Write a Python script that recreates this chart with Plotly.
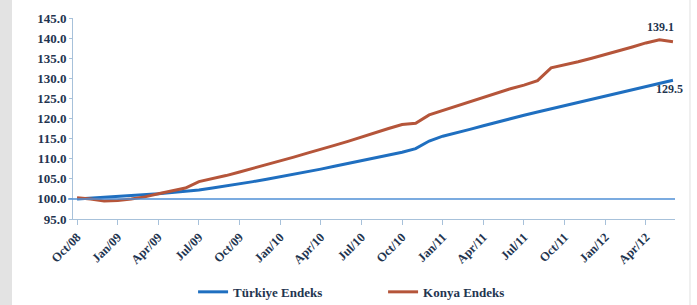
import plotly.graph_objects as go

mon = ["Jan", "Feb", "Mar", "Apr", "May", "Jun", "Jul", "Aug", "Sep", "Oct", "Nov", "Dec"]
months = []
y, m = 2008, 9
for _ in range(45):
    months.append(f"{mon[m]}/{str(y)[2:]}")
    m += 1
    if m == 12:
        m = 0
        y += 1

turkiye = [100.0, 100.2, 100.4, 100.6, 100.8, 101.0, 101.3, 101.6, 101.9, 102.2,
           102.7, 103.2, 103.7, 104.3, 104.9, 105.5, 106.1, 106.7, 107.4, 108.1,
           108.8, 109.5, 110.2, 110.9, 111.6, 112.5, 114.4, 115.6, 116.4, 117.3,
           118.2, 119.1, 120.0, 120.8, 121.6, 122.4, 123.2, 124.0, 124.8, 125.6,
           126.4, 127.2, 128.0, 128.8, 129.5]
konya = [100.3, 100.0, 99.5, 99.6, 100.0, 100.5, 101.3, 102.0, 102.7, 104.3,
         105.0, 105.8, 106.7, 107.6, 108.5, 109.5, 110.4, 111.4, 112.3, 113.3,
         114.3, 115.4, 116.4, 117.5, 118.5, 118.8, 120.9, 122.0, 123.1, 124.2,
         125.3, 126.4, 127.4, 128.3, 129.4, 132.6, 133.3, 134.1, 135.0, 135.9,
         136.8, 137.8, 138.8, 139.6, 139.1]
tick_labels = months[::3]
baseline = 100.0

font_family = "Liberation Serif"
txt_color = "#1f3550"
axis_color = "#a7c1da"

fig = go.Figure()
fig.add_trace(go.Scatter(x=months, y=turkiye, mode="lines", name="Türkiye Endeks",
                         line=dict(color="#1f6fc0", width=3)))
fig.add_trace(go.Scatter(x=months, y=konya, mode="lines", name="Konya Endeks",
                         line=dict(color="#b5553a", width=3)))

fig.add_shape(type="line", xref="paper", yref="y", x0=-0.008, x1=1.0,
              y0=baseline, y1=baseline, line=dict(color="#4f8fd6", width=1.5))
# left grey strip and right frame line
fig.add_shape(type="rect", xref="paper", yref="paper", x0=-0.13, x1=-0.1013,
              y0=-0.5, y1=1.2, fillcolor="#e3e3e3", line=dict(width=0), layer="below")
fig.add_shape(type="line", xref="paper", yref="paper", x0=1.0249, x1=1.0249,
              y0=-0.5, y1=1.2, line=dict(color="#e0e0e0", width=1))

fig.add_annotation(x=months[-1], y=konya[-1], text=f"{konya[-1]:.1f}", showarrow=False,
                   xanchor="center", yanchor="bottom", xshift=-12, yshift=6,
                   font=dict(family=font_family, size=12, color=txt_color, weight="bold"))
fig.add_annotation(x=months[-1], y=turkiye[-1], text=f"{turkiye[-1]:.1f}", showarrow=False,
                   xanchor="center", yanchor="top", xshift=-3, yshift=0,
                   font=dict(family=font_family, size=12, color=txt_color, weight="bold"))

fig.update_layout(
    width=697, height=305,
    margin=dict(l=73, r=22, t=18, b=86, autoexpand=False),
    paper_bgcolor="white", plot_bgcolor="white",
    showlegend=True,
    legend=dict(orientation="h", xref="container", yref="container",
                x=0.277, xanchor="left", y=0.043, yanchor="middle",
                entrywidth=145, entrywidthmode="pixels",
                font=dict(family=font_family, size=13, color=txt_color, weight="bold")),
)
fig.update_xaxes(type="category", range=[-0.3, 44.15], tickmode="array",
                 tickvals=tick_labels, ticktext=tick_labels, tickangle=-45,
                 automargin=False,
                 showline=True, linecolor=axis_color, linewidth=1,
                 ticks="outside", ticklen=5, tickcolor=axis_color,
                 showgrid=False, zeroline=False,
                 tickfont=dict(family=font_family, size=12.5, color=txt_color, weight="bold"))
fig.update_yaxes(range=[95, 145], dtick=5, tickformat=".1f", automargin=False,
                 showline=True, linecolor=axis_color, linewidth=1,
                 ticks="outside", ticklen=3, tickcolor=axis_color,
                 showgrid=False, zeroline=False,
                 tickfont=dict(family=font_family, size=13, color=txt_color, weight="bold"))

fig.write_html("out.html", config={"displayModeBar": False},
               post_script="document.body.style.margin='0';")
